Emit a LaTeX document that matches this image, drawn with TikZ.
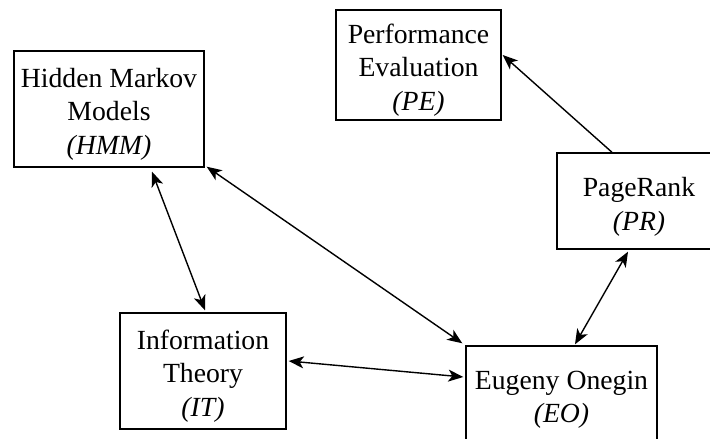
\documentclass[tikz,border=0pt]{standalone}
\usepackage{fontspec}
\setmainfont{Liberation Serif}
\usetikzlibrary{arrows.meta}

\tikzset{
  topic/.style={draw,line width=1.4pt,inner sep=0pt},
  topictext/.style={align=center,inner sep=0pt,font=\fontsize{27.7}{33.5}\selectfont},
  link/.style={line width=1.4pt,{Stealth[length=15pt,width=12pt,inset=4pt]}-{Stealth[length=15pt,width=12pt,inset=4pt]}},
  onelink/.style={line width=1.4pt,-{Stealth[length=15pt,width=12pt,inset=4pt]}}
}

\begin{document}
\begin{tikzpicture}[x=1pt,y=-1pt]
\useasboundingbox (0,0) rectangle (710,439);
\clip (0,0) rectangle (710,439);

%HMM
\node [topic,minimum width=190pt,minimum height=116pt] (hmm) at (109,109) {};
\node [topictext] (hmmtext) at ([yshift=-5pt]hmm.center)
  {Hidden Markov\\Models\\\textit{(HMM)}};

%PE
\node [topic,minimum width=165pt,minimum height=110pt] (pe) at (418.5,65) {};
\node [topictext] (petext) at ([yshift=-5pt]pe.center)
  {Performance\\Evaluation\\\textit{(PE)}};

%PR
\node [topic,minimum width=164pt,minimum height=96pt] (pr) at (639,201) {};
\node [topictext] (prtext) at ([yshift=-6pt]pr.center)
  {PageRank\\\textit{(PR)}};

%IT
\node [topic,minimum width=166pt,minimum height=116pt] (it) at (203,371) {};
\node [topictext] (ittext) at ([yshift=-5pt]it.center)
  {Information\\Theory\\\textit{(IT)}};

%EO
\node [topic,minimum width=191pt,minimum height=96pt] (eo) at (561.5,394) {};
\node [topictext] (eotext) at ([yshift=-6pt]eo.center)
  {Eugeny Onegin\\\textit{(EO)}};

%links
\draw [link] ([xshift=43pt,yshift=-4pt]hmm.south) -- ([xshift=2pt,yshift=2pt]it.north);
\draw [link] ([xshift=2pt,yshift=1pt]hmm.south east) -- ([xshift=-3pt,yshift=2pt]eo.north west);
\draw [link] ([xshift=2pt,yshift=10pt]it.east) -- ([xshift=-2pt,yshift=17pt]eo.west);
\draw [link] ([xshift=-11pt,yshift=-2pt]pr.south) -- ([xshift=13.5pt,yshift=1pt]eo.north);
\draw [onelink] ([xshift=-27pt]pr.north) -- ([xshift=1pt,yshift=10pt]pe.east);
\end{tikzpicture}
\end{document}
